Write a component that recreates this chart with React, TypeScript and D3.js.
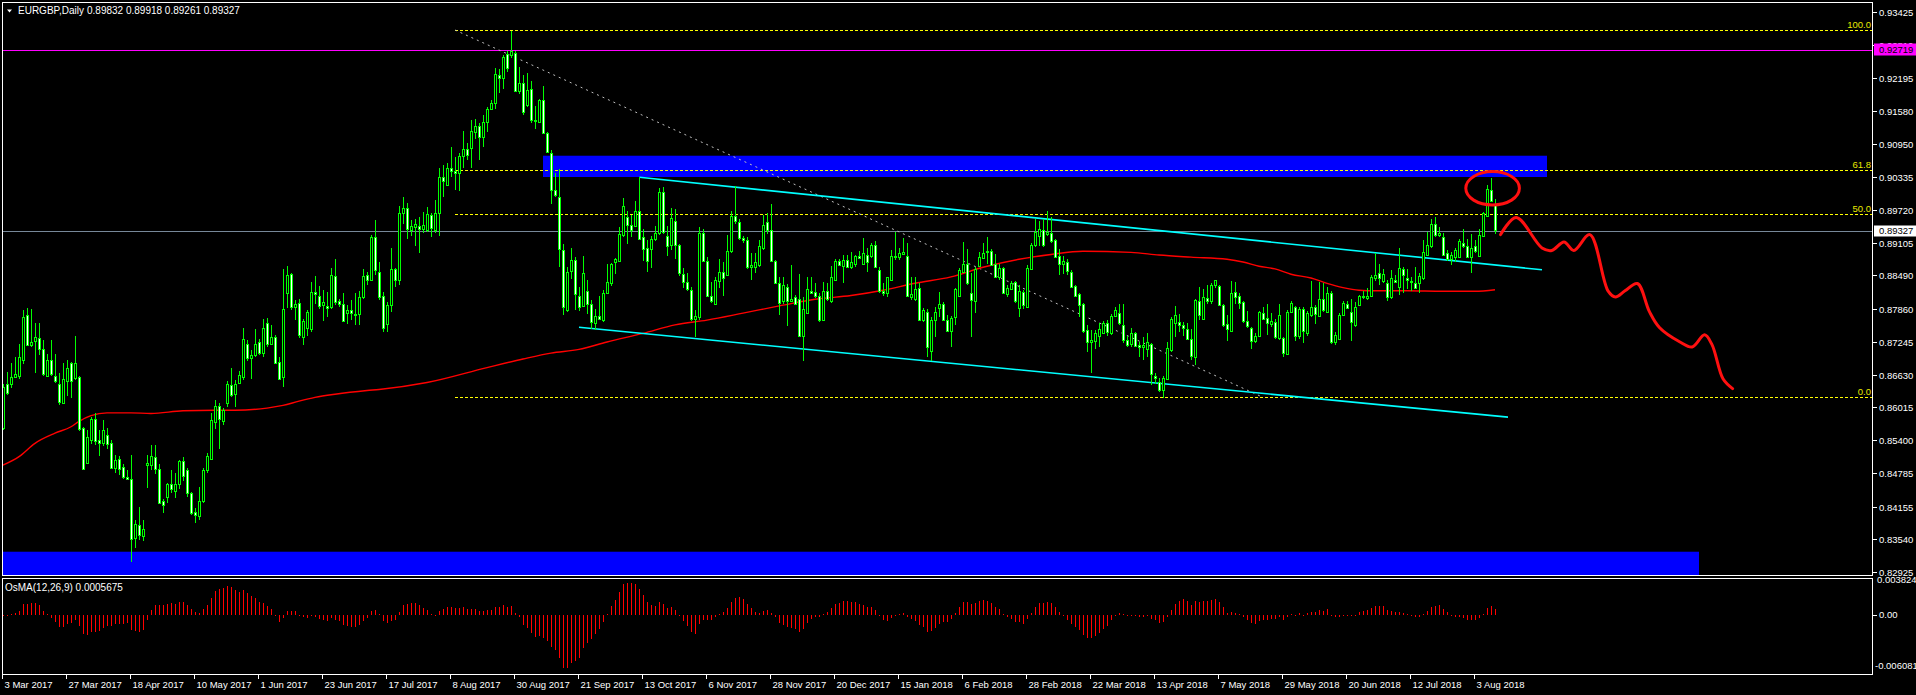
import React, { useMemo } from 'react';
import * as d3 from 'd3';

// ---- DATA (prices in 1/10000, i.e. pips) ----
const PIP = 1e-4;
const OPENS = [
8562,8646,8646,8659,8660,8691,8774,8718,8725,8731,
8710,8661,8691,8661,8646,8610,8650,8684,8656,8658,
8562,8498,8541,8579,8541,8535,8550,8534,8488,8504,
8489,8471,8468,8356,8380,8361,8493,8493,8508,8485,
8425,8433,8457,8444,8458,8500,8484,8440,8405,8398,
8425,8483,8505,8573,8604,8576,8609,8643,8626,8648,
8658,8721,8693,8699,8723,8703,8759,8721,8734,8686,
8658,8815,8851,8789,8798,8733,8751,8748,8818,8810,
8794,8791,8789,8848,8800,8795,8778,8784,8776,8776,
8808,8849,8841,8920,8856,8810,8758,8793,8860,8841,
8966,8976,8934,8940,8941,8935,8934,8962,8933,8965,
9033,9019,9050,9045,9041,9073,9086,9087,9118,9129,
9109,9136,9160,9173,9224,9218,9264,9262,9265,9194,
9209,9169,9199,9140,9136,9177,9115,9079,9008,8996,
8896,8783,8858,8878,8810,8791,8820,8796,8760,8773,
8766,8816,8834,8873,8875,8925,8958,8944,8941,8970,
8920,8901,8899,8918,8928,9005,8923,8905,8950,8905,
8851,8837,8821,8768,8771,8928,8876,8811,8796,8838,
8855,8850,8894,8961,8949,8919,8916,8864,8865,8869,
8901,8949,8934,8875,8834,8800,8828,8800,8808,8804,
8735,8779,8819,8818,8810,8766,8819,8800,8841,8875,
8866,8878,8865,8871,8885,8871,8888,8886,8905,8859,
8820,8815,8841,8885,8883,8889,8886,8809,8805,8826,
8766,8781,8708,8766,8788,8795,8766,8745,8770,8811,
8856,8871,8816,8800,8866,8881,8893,8894,8870,8845,
8863,8813,8824,8836,8788,8818,8790,8861,8905,8923,
8933,8926,8928,8915,8886,8871,8874,8856,8829,8813,
8795,8746,8724,8726,8735,8741,8759,8741,8773,8778,
8756,8728,8721,8741,8718,8714,8711,8720,8661,8649,
8633,8654,8709,8760,8761,8756,8748,8729,8696,8801,
8768,8806,8801,8830,8829,8794,8758,8745,8818,8810,
8799,8763,8750,8725,8736,8779,8769,8758,8761,8731,
8731,8701,8780,8789,8736,8785,8740,8774,8789,8773,
8804,8781,8815,8723,8730,8774,8795,8781,8755,8794,
8811,8806,8811,8843,8854,8838,8834,8808,8841,8828,
8860,8843,8839,8835,8835,8844,8888,8903,8945,8924,
8920,8890,8880,8883,8884,8910,8903,8884,8903,8886,
8923,8961,9009,8983,
];
const HIGHS = [
8645,8668,8684,8696,8720,8784,8787,8786,8759,8759,
8728,8702,8728,8702,8665,8684,8690,8687,8735,8660,
8565,8559,8584,8590,8559,8578,8562,8540,8512,8510,
8495,8484,8512,8390,8415,8390,8512,8531,8530,8495,
8430,8460,8484,8478,8503,8508,8488,8443,8412,8452,
8488,8515,8590,8615,8610,8600,8651,8675,8653,8670,
8751,8728,8709,8748,8730,8768,8769,8755,8738,8696,
8860,8866,8854,8803,8805,8768,8784,8836,8848,8829,
8821,8817,8863,8880,8805,8815,8793,8803,8815,8819,
8861,8856,8925,8953,8874,8818,8799,8900,8863,8979,
8996,8985,8953,8955,8959,8968,8978,8966,8990,9050,
9055,9059,9090,9071,9078,9120,9098,9140,9143,9134,
9150,9164,9178,9238,9235,9263,9270,9308,9269,9239,
9224,9228,9213,9166,9180,9204,9118,9084,9040,9048,
8908,8865,8900,8883,8828,8886,8840,8803,8786,8810,
8821,8870,8873,8881,8940,8994,8970,8962,8989,9033,
8936,8915,8923,8941,9013,9015,8941,8976,8974,8908,
8863,8853,8828,8784,8940,8936,8883,8836,8846,8880,
8874,8925,8969,9016,8954,8923,8921,8890,8890,8915,
8962,8966,8983,8878,8845,8845,8833,8868,8812,8852,
8809,8846,8846,8834,8815,8836,8834,8866,8880,8880,
8887,8888,8893,8888,8895,8919,8900,8910,8913,8864,
8835,8846,8896,8930,8900,8919,8909,8846,8845,8834,
8788,8785,8770,8790,8818,8799,8774,8773,8825,8863,
8911,8898,8853,8865,8893,8909,8920,8898,8889,8870,
8865,8830,8839,8839,8830,8821,8868,8909,8955,8950,
8955,8970,8959,8918,8899,8886,8879,8859,8831,8816,
8798,8756,8746,8746,8759,8763,8765,8776,8790,8796,
8796,8736,8750,8743,8724,8734,8741,8723,8665,8656,
8660,8724,8771,8791,8776,8761,8759,8749,8805,8828,
8823,8830,8834,8841,8831,8796,8774,8839,8836,8815,
8801,8783,8753,8740,8783,8790,8796,8779,8768,8795,
8734,8784,8801,8791,8790,8790,8783,8839,8794,8836,
8834,8828,8820,8743,8779,8800,8800,8804,8799,8813,
8819,8826,8849,8890,8871,8861,8840,8859,8849,8901,
8865,8861,8846,8865,8854,8916,8931,8955,8958,8940,
8928,8896,8893,8900,8918,8936,8918,8926,8916,8936,
8968,9019,9031,8992,
];
const LOWS = [
8559,8625,8637,8656,8654,8683,8716,8715,8666,8700,
8660,8659,8660,8648,8605,8608,8623,8619,8653,8558,
8484,8495,8533,8531,8510,8529,8523,8488,8478,8474,
8467,8465,8312,8337,8353,8350,8451,8484,8477,8422,
8404,8422,8440,8431,8448,8464,8434,8399,8384,8391,
8422,8478,8503,8560,8524,8568,8603,8621,8603,8646,
8653,8689,8655,8696,8699,8695,8715,8718,8684,8653,
8640,8787,8784,8765,8731,8718,8736,8742,8795,8786,
8763,8771,8785,8794,8790,8761,8758,8765,8756,8756,
8805,8831,8838,8850,8803,8743,8743,8781,8828,8831,
8946,8918,8923,8904,8891,8928,8930,8921,8928,8923,
8996,9016,9034,9009,9008,9051,9066,9051,9105,9065,
9090,9118,9159,9160,9190,9198,9231,9256,9193,9189,
9150,9165,9134,9124,9134,9115,9078,8983,8995,8865,
8774,8780,8843,8784,8783,8789,8776,8748,8746,8765,
8762,8814,8829,8851,8874,8921,8908,8921,8939,8915,
8876,8856,8863,8914,8924,8926,8886,8896,8880,8848,
8826,8820,8764,8733,8765,8874,8809,8798,8793,8825,
8811,8848,8890,8946,8915,8910,8861,8840,8853,8865,
8896,8926,8875,8833,8775,8796,8754,8799,8793,8734,
8689,8776,8815,8806,8761,8764,8800,8798,8840,8866,
8835,8863,8861,8864,8880,8869,8855,8881,8863,8815,
8810,8809,8839,8878,8878,8887,8808,8803,8801,8764,
8761,8696,8688,8734,8770,8764,8743,8715,8756,8809,
8853,8831,8733,8778,8865,8880,8871,8868,8844,8840,
8814,8809,8821,8798,8771,8786,8789,8859,8903,8904,
8903,8923,8910,8883,8849,8851,8849,8825,8809,8771,
8741,8705,8666,8710,8715,8740,8735,8738,8771,8756,
8723,8714,8714,8714,8696,8691,8695,8643,8646,8630,
8619,8653,8706,8734,8743,8735,8728,8691,8680,8766,
8765,8796,8796,8826,8791,8753,8726,8743,8796,8786,
8760,8751,8711,8723,8734,8765,8738,8753,8730,8728,
8696,8699,8778,8726,8730,8723,8736,8771,8758,8771,
8780,8778,8721,8718,8729,8773,8785,8725,8753,8791,
8804,8803,8809,8839,8831,8834,8800,8805,8834,8813,
8816,8823,8820,8824,8816,8840,8886,8901,8921,8920,
8885,8875,8868,8874,8881,8901,8881,8854,8890,8885,
8920,8959,8986,8926,
];
const CLOSES = [
8640,8628,8659,8664,8695,8770,8718,8724,8733,8710,
8663,8690,8663,8650,8612,8654,8676,8650,8684,8560,
8485,8545,8579,8539,8534,8559,8533,8488,8503,8486,
8470,8468,8354,8383,8363,8373,8498,8511,8485,8423,
8418,8458,8448,8458,8500,8472,8440,8404,8399,8425,
8484,8510,8578,8604,8579,8596,8645,8625,8645,8662,
8729,8693,8699,8721,8704,8751,8721,8734,8685,8655,
8785,8849,8790,8796,8738,8763,8780,8818,8813,8791,
8799,8788,8849,8799,8796,8764,8783,8779,8775,8808,
8848,8841,8920,8859,8808,8751,8793,8860,8841,8965,
8975,8935,8941,8945,8936,8943,8964,8938,8965,9033,
9026,9051,9045,9041,9073,9085,9075,9120,9129,9109,
9136,9160,9173,9226,9218,9258,9237,9269,9195,9209,
9156,9196,9140,9138,9178,9116,9080,9008,8999,8898,
8790,8856,8878,8814,8790,8853,8795,8761,8773,8768,
8815,8836,8870,8879,8926,8979,8943,8934,8970,8918,
8898,8876,8918,8929,9006,8930,8903,8956,8906,8853,
8836,8823,8768,8773,8928,8876,8811,8800,8840,8855,
8843,8894,8961,8950,8919,8916,8864,8868,8874,8903,
8943,8933,8876,8835,8798,8830,8800,8805,8796,8735,
8785,8823,8816,8810,8766,8819,8804,8845,8875,8869,
8878,8865,8874,8885,8881,8891,8873,8905,8865,8820,
8815,8845,8886,8883,8890,8893,8810,8813,8824,8766,
8784,8714,8766,8781,8796,8765,8745,8769,8823,8859,
8871,8834,8803,8861,8883,8891,8895,8869,8846,8863,
8815,8826,8835,8800,8820,8793,8863,8905,8930,8935,
8905,8930,8913,8884,8871,8876,8858,8828,8811,8794,
8744,8724,8728,8741,8749,8759,8743,8773,8784,8759,
8728,8719,8741,8716,8714,8718,8723,8664,8656,8633,
8656,8713,8768,8775,8756,8751,8730,8698,8803,8775,
8808,8801,8830,8840,8794,8756,8748,8816,8809,8798,
8763,8753,8726,8736,8780,8768,8760,8764,8733,8775,
8703,8781,8798,8735,8785,8744,8779,8789,8776,8805,
8783,8815,8723,8738,8774,8798,8788,8761,8789,8811,
8809,8811,8845,8849,8843,8851,8809,8843,8836,8863,
8849,8841,8836,8826,8848,8893,8906,8946,8925,8929,
8888,8880,8888,8896,8913,8904,8884,8900,8895,8924,
8965,9011,8989,8933,
];

// moving average (red) read at selected bars: [bar index, price]
const MA_POINTS: [number, number][] = [
  [0,0.8493],[4,0.8509],[8,0.8534],[13,0.8553],[17,0.8565],[19,0.8575],[22,0.8586],[26,0.8591],
  [32,0.8591],[37,0.8590],[45,0.8595],[53,0.8596],[58,0.8596],[66,0.8600],[70,0.8605],[74,0.8613],
  [78,0.8620],[83,0.8626],[91,0.8633],[94,0.8635],[106,0.8648],[121,0.8676],[130,0.8692],[137,0.8703],
  [144,0.8710],[151,0.8724],[160,0.8740],[168,0.8756],[176,0.8765],[185,0.8778],[195,0.8793],[203,0.8804],
  [212,0.8811],[220,0.8821],[228,0.8834],[237,0.8846],[245,0.8864],[254,0.8879],[262,0.8888],[270,0.8894],
  [282,0.8892],[289,0.8887],[297,0.8883],[306,0.8879],[310,0.8874],[314,0.8866],[318,0.8861],[322,0.8851],
  [327,0.8844],[331,0.8834],[335,0.8826],[339,0.8821],[343,0.8820],[351,0.8820],[360,0.8819],[368,0.8819],
  [373,0.8822],
];

// hand-drawn forecast (red), [bar index, price]
const FORECAST: [number, number][] = [
  [374.4,0.89253],[378.3,0.89574],[384.75,0.89002],[387.2,0.88955],[390.25,0.89115],[392.7,0.88955],
  [396.7,0.89253],[401.25,0.88199],[403.1,0.88083],[405.5,0.88199],[408.6,0.88336],[411.6,0.87809],
  [414.1,0.87511],[419.25,0.87239],[422.3,0.87145],[425.4,0.87374],[427.25,0.8719],[430,0.86549],[432.4,0.86365],
];
const ELLIPSE = { i: 372.4, p: 0.90121, di: 6.7, dp: 0.00313 };

const FIB_ANCHORS: [number, number][] = [[113, 0.93089], [315, 0.86202]];
const FIB_LEVELS = [0, 0.5, 0.618, 1];
const FIB_LABELS = ['0.0', '50.0', '61.8', '100.0'];

const ZONES = [
  { i0: 135, i1: 386, top: 0.90732, bottom: 0.90333 },
  { i0: -2, i1: 424, top: 0.83307, bottom: 0.8270 },
];
const CHANNEL: [number, number][][] = [
  [[159.1, 0.90327], [384.75, 0.88593]],
  [[144, 0.87515], [376.25, 0.85831]],
];
const LEVEL_MAGENTA = 0.92719;
const LAST_PRICE = 0.89327;

const PRICE_TICKS = ['0.93425','0.92810','0.92195','0.91580','0.90950','0.90335','0.89720','0.89105',
  '0.88490','0.87860','0.87245','0.86630','0.86015','0.85400','0.84785','0.84155','0.83540','0.82925'];
const DATE_LABELS = ['3 Mar 2017','27 Mar 2017','18 Apr 2017','10 May 2017','1 Jun 2017','23 Jun 2017',
  '17 Jul 2017','8 Aug 2017','30 Aug 2017','21 Sep 2017','13 Oct 2017','6 Nov 2017','28 Nov 2017',
  '20 Dec 2017','15 Jan 2018','6 Feb 2018','28 Feb 2018','22 Mar 2018','13 Apr 2018','7 May 2018',
  '29 May 2018','20 Jun 2018','12 Jul 2018','3 Aug 2018'];
const DATE_STEP = 16;
const OSMA_TOP = 0.003824;
const OSMA_BOTTOM = -0.006081;

const FONT = '"Liberation Sans", Arial, sans-serif';
const LIME = '#00ff00';

export default function App() {
  const W = 1916, H = 695;
  const L = 2, R = 1873, MT = 2, MB = 575, ST = 578, SB = 674;

  const x = d3.scaleLinear().domain([0, 1]).range([3, 7]);
  const y = d3.scaleLinear().domain([0.93425, 0.82925]).range([12.1, 572.1]);
  const yo = d3.scaleLinear().domain([OSMA_TOP, OSMA_BOTTOM]).range([579, 672]);

  const bars = useMemo(() => OPENS.map((o, i) => ({
    o: o * PIP, h: HIGHS[i] * PIP, l: LOWS[i] * PIP, c: CLOSES[i] * PIP,
  })), []);

  const osma = useMemo(() => {
    const c = bars.map(b => b.c);
    let e12 = c[0], e26 = c[0];
    const macd: number[] = [];
    c.forEach(v => {
      e12 += (2 / 13) * (v - e12);
      e26 += (2 / 27) * (v - e26);
      macd.push(e12 - e26);
    });
    return macd.map((m, i) => {
      const s = macd.slice(Math.max(0, i - 8), i + 1);
      return m - d3.mean(s)!;
    });
  }, [bars]);

  const fibLo = FIB_ANCHORS[1][1], fibHi = FIB_ANCHORS[0][1];
  const fibX0 = x(FIB_ANCHORS[0][0]);

  const maLine = d3.line<[number, number]>().x(d => x(d[0])).y(d => y(d[1])).curve(d3.curveMonotoneX);
  const fcLine = d3.line<[number, number]>().x(d => x(d[0])).y(d => y(d[1])).curve(d3.curveCatmullRom);

  const ex = x(ELLIPSE.i), ey = y(ELLIPSE.p);
  const erx = x(ELLIPSE.i + ELLIPSE.di) - ex, ery = y(ELLIPSE.p - ELLIPSE.dp) - ey;

  return (
    <div style={{ position: 'fixed', left: 0, top: 0, width: W, height: H, background: '#000' }}>
      <svg width={W} height={H} style={{ display: 'block', background: '#000' }} fontFamily={FONT}>
        <defs>
          <clipPath id="mainClip"><rect x={L} y={MT} width={R - L} height={MB - MT} /></clipPath>
          <clipPath id="subClip"><rect x={L} y={ST} width={R - L} height={SB - ST} /></clipPath>
        </defs>
        <rect x={0} y={0} width={W} height={H} fill="#000" />

        <g clipPath="url(#mainClip)">
          {ZONES.map((z, k) => (
            <rect key={k} x={x(z.i0)} y={y(z.top)} width={x(z.i1) - x(z.i0)} height={y(z.bottom) - y(z.top)} fill="#0000ff" />
          ))}
          <line x1={L} x2={R} y1={Math.round(y(LEVEL_MAGENTA)) + 0.5} y2={Math.round(y(LEVEL_MAGENTA)) + 0.5} stroke="#ff00ff" strokeWidth={1} />
          <line x1={L} x2={R} y1={Math.round(y(LAST_PRICE)) + 0.5} y2={Math.round(y(LAST_PRICE)) + 0.5} stroke="#778899" strokeWidth={1} />

          {FIB_LEVELS.map((r, k) => {
            const p = fibLo + r * (fibHi - fibLo);
            const yy = Math.round(y(p)) + 0.5;
            return (
              <g key={k}>
                <line x1={fibX0} x2={R} y1={yy} y2={yy} stroke="#ffff00" strokeWidth={1} strokeDasharray="3,2" />
                <text x={R - 2} y={yy - 2.5} fill="#e8e800" fontSize={9.5} textAnchor="end">{FIB_LABELS[k]}</text>
              </g>
            );
          })}
          <line x1={x(FIB_ANCHORS[0][0])} y1={y(FIB_ANCHORS[0][1])} x2={x(FIB_ANCHORS[1][0])} y2={y(FIB_ANCHORS[1][1])}
            stroke="#c0c0c0" strokeWidth={1} strokeDasharray="2,4" />

          <path d={maLine(MA_POINTS) || ''} fill="none" stroke="#ff0000" strokeWidth={1.4} />

          {CHANNEL.map((seg, k) => (
            <line key={k} x1={x(seg[0][0])} y1={y(seg[0][1])} x2={x(seg[1][0])} y2={y(seg[1][1])} stroke="#00ffff" strokeWidth={1.6} />
          ))}

          <g shapeRendering="crispEdges">
            {bars.map((b, i) => {
              const cx = Math.round(x(i));
              const bear = b.c < b.o;
              const top = Math.round(y(Math.max(b.o, b.c)));
              const bot = Math.round(y(Math.min(b.o, b.c)));
              return (
                <g key={i}>
                  <line x1={cx + 0.5} x2={cx + 0.5} y1={y(b.h)} y2={y(b.l)} stroke={LIME} strokeWidth={1} />
                  {bot - top >= 2 ? (
                    <rect x={cx - 0.5} y={top + 0.5} width={2} height={bot - top} fill={bear ? '#ffffff' : '#000000'} stroke={LIME} strokeWidth={1} />
                  ) : (
                    <rect x={cx - 1} y={top} width={3} height={2} fill={LIME} />
                  )}
                </g>
              );
            })}
          </g>

          <ellipse cx={ex} cy={ey} rx={erx} ry={ery} fill="none" stroke="#ff1010" strokeWidth={3} />
          <path d={fcLine(FORECAST) || ''} fill="none" stroke="#ff1010" strokeWidth={3} strokeLinejoin="round" strokeLinecap="round" />
        </g>

        {/* OsMA histogram */}
        <g clipPath="url(#subClip)" shapeRendering="crispEdges">
          {osma.map((v, i) => {
            const cx = Math.round(x(i));
            const y0 = yo(0), y1 = yo(Math.max(OSMA_BOTTOM, Math.min(OSMA_TOP, v)));
            return <rect key={i} x={cx} y={Math.min(y0, y1)} width={1} height={Math.max(1, Math.abs(y1 - y0))} fill="#ff0000" />;
          })}
        </g>

        {/* frames */}
        <g stroke="#ffffff" strokeWidth={1} fill="none" shapeRendering="crispEdges">
          <rect x={L + 0.5} y={MT + 0.5} width={R - L - 1} height={MB - MT} />
          <rect x={L + 0.5} y={ST + 0.5} width={R - L - 1} height={SB - ST} />
        </g>

        {/* header */}
        <polygon points="7,9.5 12,9.5 9.5,12.5" fill="#ffffff" />
        <text x={18} y={14} fill="#ffffff" fontSize={10}>EURGBP,Daily</text>
        <text x={87} y={14} fill="#ffffff" fontSize={10}>0.89832 0.89918 0.89261 0.89327</text>
        <text x={5} y={591} fill="#ffffff" fontSize={10}>OsMA(12,26,9) 0.0005675</text>

        {/* price axis */}
        <g fontSize={9.5} fill="#ffffff">
          {PRICE_TICKS.map((t, k) => {
            const yy = Math.round(y(+t)) + 0.5;
            return (
              <g key={k}>
                <line x1={R} x2={R + 4} y1={yy} y2={yy} stroke="#ffffff" shapeRendering="crispEdges" />
                <text x={R + 6} y={yy} dy="0.35em">{t}</text>
              </g>
            );
          })}
        </g>
        {(() => {
          const yy = Math.round(y(LEVEL_MAGENTA)) + 0.5;
          return (
            <g>
              <rect x={R + 1} y={yy - 7} width={W - R - 1} height={12} fill="#ff00ff" />
              <text x={R + 6} y={yy - 1} dy="0.35em" fontSize={9.5} fill="#000000">{LEVEL_MAGENTA.toFixed(5)}</text>
            </g>
          );
        })()}
        {(() => {
          const yy = Math.round(y(LAST_PRICE)) + 0.5;
          return (
            <g>
              <rect x={R + 1} y={yy - 6} width={W - R - 1} height={11} fill="#ffffff" />
              <text x={R + 6} y={yy - 0.5} dy="0.35em" fontSize={9.5} fill="#000000">{LAST_PRICE.toFixed(5)}</text>
            </g>
          );
        })()}

        {/* OsMA axis */}
        <g fontSize={9.5} fill="#ffffff">
          <line x1={R} x2={R + 4} y1={Math.round(yo(0)) + 0.5} y2={Math.round(yo(0)) + 0.5} stroke="#fff" />
          <text x={R + 4} y={580} dy="0.35em">{OSMA_TOP.toFixed(6)}</text>
          <text x={R + 6} y={yo(0)} dy="0.35em">0.00</text>
          <text x={R + 2} y={666} dy="0.35em">{OSMA_BOTTOM.toFixed(6)}</text>
        </g>

        {/* time axis */}
        <g fontSize={9.5} fill="#ffffff">
          {DATE_LABELS.map((d, k) => {
            const xx = Math.round(x(k * DATE_STEP)) - 0.5;
            return (
              <g key={k}>
                <line x1={xx} x2={xx} y1={SB} y2={SB + 5} stroke="#ffffff" shapeRendering="crispEdges" />
                <text x={xx + 2} y={688}>{d}</text>
              </g>
            );
          })}
        </g>
      </svg>
    </div>
  );
}
